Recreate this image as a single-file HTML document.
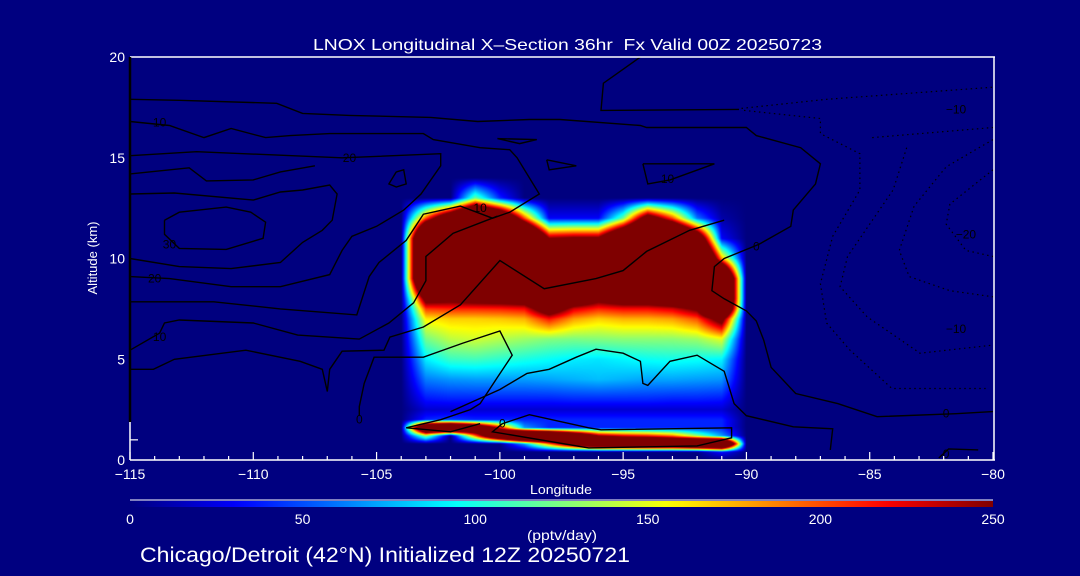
<!DOCTYPE html>
<html><head><meta charset="utf-8">
<style>
html,body{margin:0;padding:0;background:#000080;}
#wrap{position:relative;width:1080px;height:576px;overflow:hidden;background:#000080;font-family:"Liberation Sans",sans-serif;}
#field{position:absolute;left:130px;top:57px;}
#ov{position:absolute;left:0;top:0;}
text{font-family:"Liberation Sans",sans-serif;}
</style></head>
<body>
<div id="wrap">
<canvas id="field" width="863" height="403"></canvas>
<svg id="ov" width="1080" height="576" xmlns="http://www.w3.org/2000/svg">
  <defs><linearGradient id="jet" x1="0" x2="1" y1="0" y2="0"></linearGradient></defs>
  <g id="contours"></g>
  <g id="clabels" fill="#000" font-size="12"></g>
  <g id="axes"></g>
  <text x="313" y="50" font-size="16" fill="#fff" textLength="509" lengthAdjust="spacingAndGlyphs">LNOX Longitudinal X–Section 36hr&#160; Fx Valid 00Z 20250723</text>
  <text x="530" y="494" font-size="13" fill="#fff" textLength="62" lengthAdjust="spacingAndGlyphs">Longitude</text>
  <text transform="translate(97,258) rotate(-90)" text-anchor="middle" font-size="13" fill="#fff">Altitude (km)</text>
  <line x1="130" y1="500" x2="993" y2="500" stroke="#fff" stroke-width="1"/>
  <rect x="130" y="501" width="863" height="6" fill="url(#jet)"/>
  <g id="cbticks"></g>
  <text x="527" y="540" font-size="14" fill="#fff" textLength="70" lengthAdjust="spacingAndGlyphs">(pptv/day)</text>
  <text x="140" y="562" font-size="21" fill="#fff" textLength="490" lengthAdjust="spacingAndGlyphs">Chicago/Detroit (42°N) Initialized 12Z 20250721</text>
</svg>
</div>
<script>
// ---- data ----
const gridLons = [-105,-104,-103,-102,-101,-100,-99,-98,-97,-96,-95,-94,-93,-92,-91,-90,-89];
const gridAlts = [0,0.4,0.8,1.2,1.6,2.0,2.5,3,4,5,6,7,7.5,8,9,10,11,12,13,14];
const lnox = [
 [0,0,0,0,0,0,0,0,0,0,0,0,0,0,0,0,0],
 [0,0,0,0,0,0,0,0,0,0,0,0,0,0,34,0,0],
 [0,0,0,0,0,0,70,190,310,406,406,418,418,466,514,0,0],
 [0,0,130,0,190,394,550,490,370,250,226,214,190,130,70,0,0],
 [0,0,430,466,370,226,70,40,40,40,40,40,40,40,40,0,0],
 [0,0,40,46,40,40,40,40,40,40,40,40,40,40,40,0,0],
 [0,0,20,20,20,20,20,20,20,20,20,20,20,20,20,0,0],
 [0,0,35,38,38,38,38,38,40,40,40,40,38,38,36,0,0],
 [0,0,62,68,70,70,70,72,75,78,75,72,72,70,68,0,0],
 [0,0,90,108,110,105,100,95,90,88,92,96,98,96,92,0,0],
 [0,0,122,140,145,138,132,126,124,126,128,128,128,132,150,0,0],
 [0,0,160,168,168,170,175,215,180,168,175,175,180,200,280,0,0],
 [0,0,205,210,210,212,218,300,228,210,218,218,228,260,450,0,0],
 [0,0,280,270,280,285,295,400,320,270,295,295,320,380,500,0,0],
 [0,0,500,500,500,500,500,500,500,500,500,500,500,500,500,0,0],
 [0,0,500,500,500,500,500,500,500,500,500,500,500,500,180,0,0],
 [0,0,500,500,500,500,500,250,260,260,400,500,500,350,30,0,0],
 [0,0,200,350,500,400,200,30,30,30,120,300,200,60,10,0,0],
 [0,0,0,0,120,40,0,0,0,0,0,0,0,0,0,0,0],
 [0,0,0,0,0,0,0,0,0,0,0,0,0,0,0,0,0]
];
const xTicks = [-115,-110,-105,-100,-95,-90,-85,-80];
const xTickLabels = ["−115","−110","−105","−100","−95","−90","−85","−80"];
const yTicks = [0,5,10,15,20];
const yTickLabels = ["0","5","10","15","20"];
const cbTicks = [0,50,100,150,200,250];
const cbTickLabels = ["0","50","100","150","200","250"];

// contours as [lon, alt] pairs
const contourZeroMain = [[-115,17.9],[-113,17.85],[-109.05,17.7],[-108,17.2],[-106.1,17.1],[-102.8,17.0],[-100.9,16.8],[-98.8,16.9],[-97.56,16.9],[-94.3,16.6],[-94.05,16.5],[-90,16.5],[-89.6,16.1],[-87.8,15.5],[-87,14.7],[-87.2,13.7],[-88.1,12.4],[-88.2,11.6],[-89.5,10.7],[-90.9,10.0],[-91.3,9.6],[-91.4,8.4],[-90.9,8.0],[-90,7.4],[-89.6,6.9],[-89.3,5.95],[-89,4.6],[-88,3.3],[-86.3,2.8],[-84.7,2.15],[-81.5,2.3],[-80,2.4]];
const contourTen = [[-115,16.8],[-113.4,16.6],[-112,16.0],[-110.9,16.45],[-109.5,16.0],[-108.5,16.1],[-106.9,16.2],[-103.1,16.2],[-102.7,15.9],[-100.8,15.5],[-99.6,15.4],[-99.3,15.0],[-98.4,13.2],[-99.6,12.3],[-100.3,12.0],[-101.6,12.6],[-103.1,12.2],[-103.8,10.9],[-104.9,9.8],[-105.3,9.1],[-105.8,7.2],[-108.9,7.5],[-111.6,7.85],[-115,7.85]];
const contourTwenty = [[-115,15.1],[-112.3,15.3],[-106.4,15.0],[-102.4,15.2],[-102.4,14.6],[-103.2,13.2],[-103.9,12.4],[-105,11.6],[-106,11.1],[-106.4,10.4],[-106.9,9.2],[-108.9,8.6],[-110.9,8.6],[-113.4,9.0],[-115,9.1]];
const contourD = [[-115,14.2],[-112.6,14.5],[-111.9,13.85],[-110,13.9],[-108.9,14.3],[-107.5,14.6]];
const contourE = [[-115,13.2],[-113.2,13.25],[-110,12.9],[-108.9,13.3],[-108,13.4],[-106.9,13.65],[-106.6,13.2],[-106.8,11.9],[-107.2,11.4],[-108,10.8],[-108.9,9.8],[-110.9,9.5],[-113,9.6],[-115,10.0]];
const contourThirty = [[-113.6,11.9],[-113,12.3],[-111.1,12.55],[-110.1,12.3],[-109.5,11.8],[-109.6,11.0],[-111.1,10.45],[-113,10.5],[-113.6,11.2],[-113.6,11.9]];
const contourTenLow = [[-115,5.45],[-113.8,6.3],[-113.6,6.8],[-113,6.95],[-110,6.8],[-108.2,6.2],[-105.7,6.0],[-104.5,6.8],[-103.5,7.8],[-103,8.9],[-103,10.1],[-101.9,11.25],[-100.1,12.1]];
const contourJK = [[-115,4.5],[-114.05,4.5],[-113.2,5.0],[-110.3,5.45],[-108.1,4.9],[-107.2,4.5],[-107.0,3.4],[-106.9,4.5],[-106.4,5.4],[-104.7,5.45],[-104.46,6.1],[-103.1,6.6],[-101.6,7.7],[-100,9.9],[-98.2,8.5],[-96.1,9.0],[-95,9.4],[-94.05,10.35],[-92.3,11.4],[-90.9,11.9]];
const contourZeroLow = [[-105.7,2.2],[-105.7,2.65],[-105.5,3.8],[-105.1,5.1],[-103.1,5.1],[-101.5,5.8],[-100,6.4],[-99.5,5.2],[-100.1,4.1],[-100.8,2.8],[-101.2,2.5],[-102.4,2.0],[-103.8,1.6],[-102,1.4],[-100.8,1.8]];
const contourCyan = [[-102,2.4],[-100,3.5],[-98.9,4.3],[-98,4.5],[-96.9,5.1],[-96.1,5.5],[-95,5.3],[-94.3,4.9],[-94.2,3.8],[-94,3.7],[-93.1,4.9],[-92,5.2],[-90.9,4.4],[-90.5,2.8],[-90,2.2],[-88.1,1.65],[-86.5,1.55],[-86.6,0.5]];
const contourStrip = [[-99.9,1.8],[-98.8,2.25],[-96.4,1.6],[-95.9,1.5],[-90.6,1.6],[-90.6,1.1],[-92,0.7],[-96.4,0.6],[-100.3,1.4],[-99.9,1.8]];
const contourTop = [[-94.3,20],[-95.8,18.7],[-95.9,17.35],[-90.3,17.4]];
const loopA = [[-100.1,15.95],[-98.5,15.9],[-99.2,15.7],[-100.1,15.95]];
const loopB = [[-98.1,14.9],[-96.9,14.6],[-98.0,14.4],[-98.1,14.9]];
const loopC = [[-104.2,14.3],[-103.9,14.4],[-103.8,13.7],[-104.2,13.55],[-104.5,13.7],[-104.2,14.3]];
const loopD = [[-94.2,14.7],[-91.3,14.7],[-93.1,13.9],[-94.0,13.7],[-94.2,14.7]];
const loopE = [[-82.2,0.1],[-81.8,0.55],[-80.6,0.5]];
const negTen1 = [[-90.2,17.45],[-86.75,17.9],[-80,18.5]];
const negTen2 = [[-90.1,17.35],[-87,16.95],[-87,16.2],[-85.4,15.2],[-85.4,13.4],[-86.5,11.1],[-87,8.75],[-86.75,6.8],[-85.8,5.45],[-84.1,3.55],[-80.3,3.55]];
const negTen3 = [[-84.9,16.0],[-80,16.5]];
const negTen4 = [[-83.5,15.5],[-84.05,13.4],[-85.9,10.1],[-86.2,8.6],[-85.1,7.1],[-82.96,5.3],[-80,5.7]];
const negTwenty1 = [[-80,15.9],[-81.9,14.55],[-83.2,12.6],[-83.8,10.4],[-83.4,9.1],[-81.75,8.4],[-80,8.1]];
const negTwenty2 = [[-80,14.4],[-81.75,12.7],[-81.9,11.7],[-81.1,10.4],[-80,10.1]];
const solidContours = [contourZeroMain,contourTen,contourTwenty,contourD,contourE,contourThirty,contourTenLow,contourJK,contourZeroLow,contourCyan,contourStrip,contourTop,loopA,loopB,loopC,loopD,loopE];
const dottedContours = [negTen1,negTen2,negTen3,negTen4,negTwenty1,negTwenty2];
const contourLabelPos = [[-113.8,16.75],[-106.1,15.0],[-113.4,10.7],[-114,9.0],[-113.8,6.1],[-100.8,12.5],[-105.7,2.0],[-99.9,1.8],[-93.2,13.95],[-89.6,10.6],[-81.5,17.4],[-81.1,11.2],[-81.5,6.5],[-81.9,2.3],[-81.9,0.3]];
const contourLabelText = ["10","20","30","20","10","10","0","0","10","0","−10","−20","−10","0","0"];

// ---- scales ----
const X0=130,X1=993,Y0=460,Y1=57;
function xs(lon){return X0+(lon+115)*(X1-X0)/35;}
function ys(alt){return Y0-alt*(Y0-Y1)/20;}
function jet(v){
  let t=Math.max(0,Math.min(1,v/250));
  const c=x=>Math.max(0,Math.min(1,1.5-Math.abs(x)));
  return [c(4*t-3)*255|0,c(4*t-2)*255|0,c(4*t-1)*255|0];
}
function sample(lon,alt){
  if(lon<=gridLons[0]||lon>=gridLons[gridLons.length-1]) return 0;
  if(alt<0) alt=0;
  if(alt>=gridAlts[gridAlts.length-1]) return 0;
  let i=0; while(gridLons[i+1]<lon) i++;
  let j=0; while(gridAlts[j+1]<alt) j++;
  const fx=(lon-gridLons[i])/(gridLons[i+1]-gridLons[i]);
  const fy=(alt-gridAlts[j])/(gridAlts[j+1]-gridAlts[j]);
  const a=lnox[j][i],b=lnox[j][i+1],c=lnox[j+1][i],d=lnox[j+1][i+1];
  return (a*(1-fx)+b*fx)*(1-fy)+(c*(1-fx)+d*fx)*fy;
}
// ---- field ----
(function(){
  const cv=document.getElementById('field');const ctx=cv.getContext('2d');
  const W=cv.width,H=cv.height;const img=ctx.createImageData(W,H);
  for(let py=0;py<H;py++){
    const alt=(Y0-(Y1+py+0.5))*20/(Y0-Y1);
    for(let px=0;px<W;px++){
      const lon=-115+(px+0.5)*35/(X1-X0);
      const col=jet(sample(lon,alt));const k=(py*W+px)*4;
      img.data[k]=col[0];img.data[k+1]=col[1];img.data[k+2]=col[2];img.data[k+3]=255;
    }
  }
  ctx.putImageData(img,0,0);
})();
const NS='http://www.w3.org/2000/svg';
function mk(tag,attrs,parent){const e=document.createElementNS(NS,tag);for(const k in attrs)e.setAttribute(k,attrs[k]);parent.appendChild(e);return e;}
// ---- contours ----
const cg=document.getElementById('contours');
solidContours.forEach(c=>{
  const p=mk('polyline',{points:c.map(q=>xs(q[0]).toFixed(1)+','+ys(q[1]).toFixed(1)).join(' '),fill:'none',stroke:'#000','stroke-width':1.4},cg);
  
  
});
dottedContours.forEach(c=>{
  const p=mk('polyline',{points:c.map(q=>xs(q[0]).toFixed(1)+','+ys(q[1]).toFixed(1)).join(' '),fill:'none',stroke:'#000','stroke-width':1.2,'stroke-dasharray':'1.5,3.5'},cg);
  
  
});
const lg=document.getElementById('clabels');
contourLabelPos.forEach((q,i)=>{
  const t=mk('text',{x:xs(q[0]),y:ys(q[1])+4,'text-anchor':'middle'},lg);
  t.textContent=contourLabelText[i];
  
  
});
// ---- axes ----
const ax=document.getElementById('axes');
let e;
e=mk('line',{x1:X0,y1:Y1,x2:995,y2:Y1,stroke:'#fff','stroke-width':1.5},ax);

e=mk('line',{x1:994,y1:Y1,x2:994,y2:Y0,stroke:'#fff','stroke-width':1.5},ax);

e=mk('line',{x1:X0,y1:Y0,x2:995,y2:Y0,stroke:'#fff','stroke-width':1.5},ax);

e=mk('line',{x1:X0,y1:Y1,x2:X0,y2:422,stroke:'#000','stroke-width':2.5},ax);

e=mk('line',{x1:X0,y1:422,x2:X0,y2:Y0,stroke:'#fff','stroke-width':1.5},ax);

e=mk('line',{x1:X0,y1:ys(1),x2:X0+8,y2:ys(1),stroke:'#fff','stroke-width':1.2},ax);

for(let lon=-115;lon<=-80;lon++){
  const major=(lon%5===0);
  const t=mk('line',{x1:xs(lon),y1:Y0,x2:xs(lon),y2:Y0-(major?8:4),stroke:'#fff','stroke-width':1.2},ax);
  
  
}
xTicks.forEach((v,i)=>{
  const t=mk('text',{x:xs(v),y:479,'text-anchor':'middle','font-size':14,fill:'#fff'},ax);
  t.textContent=xTickLabels[i];
  
  
});
yTicks.forEach((v,i)=>{
  const t=mk('text',{x:125,y:ys(v)+5,'text-anchor':'end','font-size':14,fill:'#fff'},ax);
  t.textContent=yTickLabels[i];
  
  
});
// ---- colorbar ----
const grad=document.getElementById('jet');
for(let s=0;s<=50;s++){
  const c=jet(s/50*250);
  mk('stop',{offset:(s/50).toFixed(3),'stop-color':'rgb('+c.join(',')+')'},grad);
}
const cb=document.getElementById('cbticks');
cbTicks.forEach((v,i)=>{
  const t=mk('text',{x:130+v/250*863,y:524,'text-anchor':'middle','font-size':14,fill:'#fff'},cb);
  t.textContent=cbTickLabels[i];
  
  
});
</script>
</body></html>
